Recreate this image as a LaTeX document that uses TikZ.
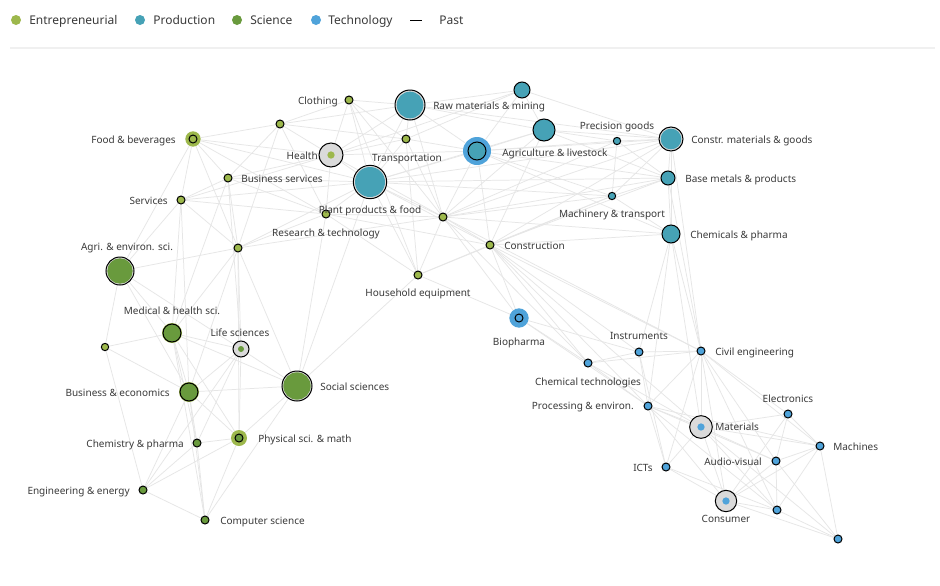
\documentclass[tikz,border=0pt]{standalone}
\usepackage{fontspec}
\setmainfont{Noto Sans}
\usetikzlibrary{backgrounds}
\definecolor{EN}{HTML}{9DB84C}
\definecolor{PR}{HTML}{46A2B6}
\definecolor{SC}{HTML}{699A3D}
\definecolor{TE}{HTML}{4FA3DA}
\definecolor{PG}{HTML}{DADADA}
\definecolor{ED}{HTML}{E6E6E6}
\definecolor{TX}{HTML}{3A3A3A}
\definecolor{SEP}{HTML}{F0F0F0}
\begin{document}
\begin{tikzpicture}[x=0.75pt,y=-0.75pt,
 dotn/.style={circle,inner sep=0pt,draw=black,line width=0.75pt,minimum size=#1},
 dotn/.default=6pt,
 pastn/.style={circle,inner sep=0pt,draw=black,line width=0.75pt,fill=PG,minimum size=#1},
 curn/.style={circle,inner sep=0pt,draw=none,minimum size=#1},
 lbl/.style={font=\fontsize{7.5}{9}\selectfont,text=TX,inner sep=0pt,text height=5.5pt,text depth=1.5pt,yshift=-1.1pt},
 leg/.style={font=\fontsize{9}{11}\selectfont,text=TX,inner sep=0pt,anchor=west,text height=6.5pt,text depth=1.8pt,yshift=-1.3pt},
 legdot/.style={circle,inner sep=0pt,minimum size=7.5pt},
 edge/.style={draw=ED,line width=0.55pt}]
\useasboundingbox (0,0) rectangle (940,586);

% legend
\node[legdot,fill=EN] (lg1) at (16,20) {};
\node[leg] (lt1) at (29,20) {Entrepreneurial};
\node[legdot,fill=PR] (lg2) at (140,20) {};
\node[leg] (lt2) at (153,20) {Production};
\node[legdot,fill=SC] (lg3) at (237,20) {};
\node[leg] (lt3) at (250,20) {Science};
\node[legdot,fill=TE] (lg4) at (316,20) {};
\node[leg] (lt4) at (328,20) {Technology};
\coordinate (lp1) at (410,20);
\coordinate (lp2) at (422,20);
\draw[line width=0.6pt] (lp1) -- (lp2);
\node[leg] (lt5) at (439,20) {Past};
\coordinate (sp1) at (10,48);
\coordinate (sp2) at (935,48);
\draw[SEP,line width=0.8pt] (sp1) -- (sp2);

% Entrepreneurial
\node[dotn,fill=EN] (e1) at (349,100) {};
\node[dotn,fill=EN] (e2) at (280,124) {};
\node[curn=11.5pt,fill=EN] (e3) at (193,139) {};
\node[dotn,fill=EN] (e3i) at (e3) {};
\node[pastn=18pt] (e4) at (331,155) {};
\node[curn=5.5pt,fill=EN] (e4i) at (e4) {};
\node[dotn,fill=EN] (e5) at (406,139) {};
\node[dotn,fill=EN] (e6) at (228,178) {};
\node[dotn,fill=EN] (e7) at (181,200) {};
\node[dotn,fill=EN] (e8) at (326,214) {};
\node[dotn,fill=EN] (e9) at (443,217) {};
\node[dotn,fill=EN] (e10) at (490,245) {};
\node[dotn,fill=EN] (e11) at (238,248) {};
\node[dotn,fill=EN] (e12) at (418,275) {};
\node[dotn=5.5pt,fill=EN] (e13) at (105,347) {};

% Production
\node[pastn=22.5pt] (p1) at (410,105) {};
\node[curn=20pt,fill=PR] (p1i) at (p1) {};
\node[dotn=12pt,fill=PR] (p2) at (522,90) {};
\node[curn=21pt,fill=TE] (p3) at (477,151) {};
\node[dotn=13.5pt,fill=PR] (p3i) at (p3) {};
\node[dotn=16.5pt,fill=PR] (p4) at (544,130) {};
\node[dotn=5.5pt,fill=PR] (p5) at (617,141) {};
\node[pastn=18pt] (p6) at (671,139) {};
\node[curn=15.5pt,fill=PR] (p6i) at (p6) {};
\node[pastn=25pt] (p7) at (370,182) {};
\node[curn=22.5pt,fill=PR] (p7i) at (p7) {};
\node[dotn=10.5pt,fill=PR] (p8) at (668,178) {};
\node[dotn=5.5pt,fill=PR] (p9) at (612,196) {};
\node[dotn=13.5pt,fill=PR] (p10) at (671,234) {};

% Technology
\node[curn=14.5pt,fill=TE] (t1) at (519,318) {};
\node[dotn,fill=TE] (t1i) at (t1) {};
\node[dotn,fill=TE] (t2) at (639,352) {};
\node[dotn,fill=TE] (t3) at (701,351) {};
\node[dotn,fill=TE] (t4) at (588,363) {};
\node[dotn,fill=TE] (t5) at (648,406) {};
\node[dotn,fill=TE] (t6) at (788,414) {};
\node[pastn=17pt] (t7) at (701,427) {};
\node[curn=5.5pt,fill=TE] (t7i) at (t7) {};
\node[dotn,fill=TE] (t8) at (820,446) {};
\node[dotn,fill=TE] (t9) at (666,467) {};
\node[dotn,fill=TE] (t10) at (776,461) {};
\node[pastn=16pt] (t11) at (726,501) {};
\node[curn=5.5pt,fill=TE] (t11i) at (t11) {};
\node[dotn,fill=TE] (t12) at (777,510) {};
\node[dotn,fill=TE] (t13) at (838,539) {};

% Science
\node[pastn=21pt] (s1) at (120,271) {};
\node[curn=19pt,fill=SC] (s1i) at (s1) {};
\node[curn=15pt,fill=EN] (s2) at (172,333) {};
\node[dotn=13.5pt,fill=SC] (s2i) at (s2) {};
\node[pastn=12pt] (s3) at (241,349) {};
\node[curn=4.5pt,fill=SC] (s3i) at (s3) {};
\node[curn=15pt,fill=EN] (s4) at (189,392) {};
\node[dotn=13.5pt,fill=SC] (s4i) at (s4) {};
\node[pastn=22.5pt] (s5) at (297,386) {};
\node[curn=20.5pt,fill=SC] (s5i) at (s5) {};
\node[dotn,fill=SC] (s6) at (197,443) {};
\node[curn=12pt,fill=EN] (s7) at (239,438) {};
\node[dotn,fill=SC] (s7i) at (s7) {};
\node[dotn,fill=SC] (s8) at (143,490) {};
\node[dotn,fill=SC] (s9) at (205,520) {};

% labels
\node[lbl,anchor=east] (l-e1) at (338,100) {Clothing};
\node[lbl,anchor=east] (l-e3) at (176,139) {Food \& beverages};
\node[lbl,anchor=east] (l-e4) at (318,155) {Health};
\node[lbl] (l-e5) at (407,157) {Transportation};
\node[lbl,anchor=west] (l-e6) at (241,178) {Business services};
\node[lbl,anchor=east] (l-e7) at (168,200) {Services};
\node[lbl] (l-p7) at (370,209) {Plant products \& food};
\node[lbl] (l-e8) at (326,232) {Research \& technology};
\node[lbl,anchor=west] (l-e10) at (504,245) {Construction};
\node[lbl] (l-e12) at (418,292) {Household equipment};
\node[lbl,anchor=west] (l-p1) at (433,105) {Raw materials \& mining};
\node[lbl,anchor=west] (l-p3) at (502,152) {Agriculture \& livestock};
\node[lbl] (l-p5) at (617,125) {Precision goods};
\node[lbl,anchor=west] (l-p6) at (691,139) {Constr. materials \& goods};
\node[lbl,anchor=west] (l-p8) at (685,178) {Base metals \& products};
\node[lbl] (l-p9) at (612,213) {Machinery \& transport};
\node[lbl,anchor=west] (l-p10) at (690,234) {Chemicals \& pharma};
\node[lbl] (l-t1) at (519,341) {Biopharma};
\node[lbl] (l-t2) at (639,335) {Instruments};
\node[lbl,anchor=west] (l-t3) at (715,351) {Civil engineering};
\node[lbl] (l-t4) at (588,381) {Chemical technologies};
\node[lbl,anchor=east] (l-t5) at (634,405) {Processing \& environ.};
\node[lbl] (l-t6) at (788,398) {Electronics};
\node[lbl,anchor=west] (l-t7) at (715,426) {Materials};
\node[lbl,anchor=west] (l-t8) at (833,446) {Machines};
\node[lbl,anchor=east] (l-t9) at (653,467) {ICTs};
\node[lbl,anchor=east] (l-t10) at (762,461) {Audio-visual};
\node[lbl] (l-t11) at (726,518) {Consumer};
\node[lbl] (l-s1) at (127,246) {Agri. \& environ. sci.};
\node[lbl] (l-s2) at (172,310) {Medical \& health sci.};
\node[lbl] (l-s3) at (240,332) {Life sciences};
\node[lbl,anchor=east] (l-s4) at (170,392) {Business \& economics};
\node[lbl,anchor=west] (l-s5) at (320,386) {Social sciences};
\node[lbl,anchor=east] (l-s6) at (184,443) {Chemistry \& pharma};
\node[lbl,anchor=west] (l-s7) at (258,438) {Physical sci. \& math};
\node[lbl,anchor=east] (l-s8) at (130,490) {Engineering \& energy};
\node[lbl,anchor=west] (l-s9) at (220,520) {Computer science};

\begin{scope}[on background layer]
\fill[white] (0,0) rectangle (940,586);
\foreach \a/\b in {e3/e4,e3/e6,e3/e7,e3/e11,e3/p7,e3/e8,e3/e2,e3/s1,
 e2/e1,e2/e4,e2/e6,e2/p1,e2/e5,e2/e11,e2/e8,
 e1/e4,e1/p1,e1/e5,e1/p7,e1/e12,e1/e9,
 e4/p1,e4/e5,e4/p7,e4/e6,e4/e7,e4/e8,e4/p3,e4/e9,e4/p2,
 e5/p1,e5/p3,e5/p7,e5/e9,e5/e12,e5/p2,
 e6/e7,e6/e8,e6/e11,e6/p7,e6/s2,e6/s3,
 e7/e8,e7/e11,e7/p7,e7/s2,e7/s1,e7/s4,
 e8/p7,e8/e9,e8/e11,e8/e12,e8/s5,e8/e10,
 e11/s1,e11/s3,e11/s2,e11/s4,e11/p7,e11/s7,e11/e9,e11/s5,
 e9/p7,e9/e10,e9/p3,e9/p1,e9/p4,e9/p6,e9/p8,e9/p9,e9/p10,e9/t1,e9/t4,e9/t3,e9/e12,e9/p5,
 e10/p7,e10/p3,e10/p8,e10/p9,e10/p10,e10/t1,e10/t4,e10/t2,e10/t5,e10/t3,e10/t7,e10/p6,e10/p4,e10/e12,
 p7/p1,p7/p3,p7/p4,p7/p6,p7/p8,p7/e12,p7/s5,p7/p9,
 p1/p2,p1/p3,p1/p4,p1/p6,p2/p3,p2/p4,p2/p6,
 p3/p4,p3/p5,p3/p6,p3/p8,p3/p9,p3/p10,
 p4/p5,p4/p6,p4/p8,p5/p6,p5/p9,p5/p8,
 p6/p8,p6/p9,p6/p10,p6/t3,p8/p9,p8/p10,p8/t3,p9/p10,p9/e12,
 p10/t3,p10/t5,p10/t7,p10/t2,e12/t1,e12/s5,
 t1/t4,t1/t2,t1/t5,t2/t3,t2/t4,t2/t5,t2/t9,
 t3/t4,t3/t5,t3/t6,t3/t7,t3/t8,t3/t9,t3/t10,t3/t11,t3/t12,
 t4/t5,t4/t7,t5/t7,t5/t8,t5/t9,t5/t10,t5/t11,t5/t12,
 t6/t7,t6/t8,t6/t10,t6/t11,t7/t8,t7/t9,t7/t10,t7/t11,t7/t12,t7/t13,
 t8/t10,t8/t12,t8/t13,t8/t11,t9/t11,t9/t12,t10/t11,t10/t12,t10/t13,
 t11/t12,t11/t13,t12/t13,
 s1/s2,s1/s4,s1/e13,s1/s3,
 s2/e13,s2/s3,s2/s4,s2/s6,s2/s7,s2/s9,s2/s5,
 s3/s4,s3/s5,s3/s7,s3/s6,s3/s8,
 s4/s5,s4/s6,s4/s7,s4/s9,s4/s8,s5/s9,s5/s7,
 s6/s7,s6/s8,s6/s9,s7/s8,s7/s9,s8/s9,e13/s8,e13/s4}
 \draw[edge] (\a) -- (\b);
\end{scope}
\end{tikzpicture}
\end{document}
